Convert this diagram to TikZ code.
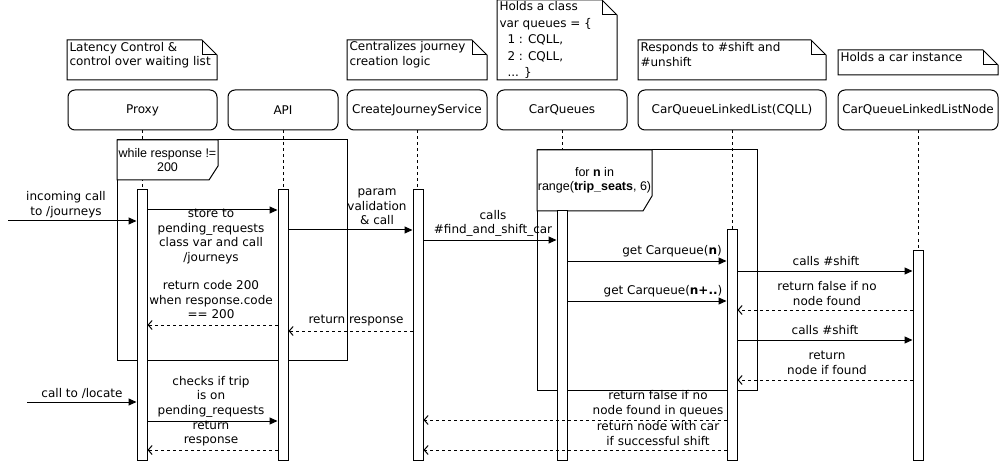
\documentclass[tikz,border=0pt]{standalone}
\usepackage{fontspec}
\setmainfont{DejaVu Sans}
\newfontfamily\framefont{Liberation Sans}
\usetikzlibrary{arrows.meta, calc}

\newcommand{\lbl}{\fontsize{12}{14.5}\selectfont}
\newcommand{\framelbl}{\framefont\fontsize{12.5}{14.5}\selectfont}

% note outline with folded corner: x1, y1, x2, y2
\newcommand{\notebox}[4]{%
  \draw[fill=white] (#1,#2) -- (#3-15,#2) -- (#3,#2+15) -- (#3,#4) -- (#1,#4) -- cycle;
  \draw (#3-15,#2) -- (#3-15,#2+15) -- (#3,#2+15);
}

\tikzset{
  participant/.style={draw, rounded corners=7pt, minimum height=40pt, inner sep=0pt, font=\lbl},
  actbar/.style={draw, fill=white, minimum width=10pt, inner sep=0pt},
  lifeline/.style={dash pattern=on 3pt off 3pt},
  call/.style={-{Triangle[length=8pt, width=7pt]}},
  reply/.style={-{Straight Barb[length=4pt, width=9pt]}, dash pattern=on 3pt off 3pt},
  msg/.style={font=\lbl, align=center, inner sep=0pt},
  notetext/.style={font=\lbl, align=left, inner sep=0pt, anchor=west},
  framelabel/.style={font=\framelbl, align=center, inner sep=0pt},
}

\begin{document}
\begin{tikzpicture}[x=1pt, y=-1pt, line width=1pt]

\useasboundingbox (0,0) rectangle (1000,462);

% Notes
\notebox{67}{40}{217}{80}
\node[notetext] (noteProxy) at (69,55) {Latency Control \&\\control over waiting list};
\notebox{347}{40}{487}{80}
\node[notetext] (noteCjs) at (349,54.5) {Centralizes journey\\creation logic};
\notebox{497}{0}{617}{80}
\node[notetext, font=\fontsize{12}{16.5}\selectfont] (noteCq) at (499,40)
  {Holds a class\\var queues = \{\\\hspace*{8pt}1 : CQLL,\\\hspace*{8pt}2 : CQLL,\\\hspace*{8pt}... \}};
\notebox{638}{40}{826}{80}
\node[notetext] (noteCqll) at (640,54.5) {Responds to \#shift and\\\#unshift};
\notebox{838}{50}{998}{75}
\node[notetext] (noteNode) at (840,57.5) {Holds a car instance};

% Participants
\node[participant, minimum width=149pt] (proxy) at (142.5,110) {Proxy};
\node[participant, minimum width=110pt] (api) at (283,110) {API};
\node[participant, minimum width=140pt] (cjs) at (417,110) {CreateJourneyService};
\node[participant, minimum width=130pt] (cq) at (562,110) {CarQueues};
\node[participant, minimum width=188pt] (cqll) at (732,110) {CarQueueLinkedList(CQLL)};
\node[participant, minimum width=160pt] (cqlln) at (918,110) {CarQueueLinkedListNode};

% Lifelines
\foreach \p in {proxy, api, cjs, cq, cqll, cqlln} {
  \draw[lifeline] (\p.south) -- (\p.south |- 0,460);
}

% --- Loop: while response != 200 ---
\draw (117,140) rectangle (347,360);
\draw[fill=white] (117,140) -- (218,140) -- (218,166) -- (209,180) -- (117,180) -- cycle;
\node[framelabel] (loopWhile) at (167.5,160) {while response !=\\200};

% --- Loop: for n in range ---
\draw (537,150) rectangle (757,390);
\draw[fill=white] (537,150) -- (652,150) -- (652,196) -- (643,211) -- (537,211) -- cycle;
\node[framelabel] (loopFor) at (594.5,180.5)
  {for \textbf{n} in\\range(\textbf{trip\_seats}, 6)};

% Activation bars
\foreach \n/\x/\top in {proxy/142/190, api/283/190, cjs/418/190,
                        cq/562/211, cqll/732/230, cqlln/918/250} {
  \node[actbar, minimum height={460-\top}] (\n-act) at (\x,{(460+\top)/2}) {};
}

% --- Create journey ---
\coordinate (inJourneys) at (8,221);
\draw[call] (inJourneys) -- (proxy-act.west |- inJourneys);
\node[msg] (lblIncoming) at (66,204.5) {incoming call\\to /journeys};

\draw[call] (proxy-act.east |- 0,210) -- (api-act.west |- 0,210);
\node[msg] (lblStore) at (211,236.5) {store to\\pending\_requests\\class var and call\\/journeys};

\draw[call] (api-act.east |- 0,230) -- (cjs-act.west |- 0,230);
\node[msg] (lblParam) at (377,207) {param\\validation\\\& call};

\draw[call] (cjs-act.east |- 0,240) -- (cq-act.west |- 0,240);
\node[msg] (lblFind) at (493,223.5) {calls\\\#find\_and\_shift\_car};

\draw[call] (cq-act.east |- 0,261) -- (cqll-act.west |- 0,261);
\node[msg] (lblGetN) at (672,251) {get Carqueue(\textbf{n})};

\draw[call] (cqll-act.east |- 0,271) -- (cqlln-act.west |- 0,271);
\node[msg] (lblShiftA) at (826,261) {calls \#shift};

\draw[call] (cq-act.east |- 0,301) -- (cqll-act.west |- 0,301);
\node[msg] (lblGetNext) at (663,291) {get Carqueue(\textbf{n+..})};

\draw[reply] (cqlln-act.west |- 0,310) -- (cqll-act.east |- 0,310);
\node[msg] (lblNoNode) at (827,293.5) {return false if no\\node found};

\draw[call] (cqll-act.east |- 0,340) -- (cqlln-act.west |- 0,340);
\node[msg] (lblShiftB) at (825,330) {calls \#shift};

\draw[reply] (cqlln-act.west |- 0,380) -- (cqll-act.east |- 0,380);
\node[msg] (lblFound) at (827,363) {return\\node if found};

% Responses back to the proxy
\draw[reply] (cjs-act.west |- 0,331) -- (api-act.east |- 0,331);
\node[msg] (lblRespCjs) at (356,321) {return response};

\draw[reply] (api-act.west |- 0,325) -- (proxy-act.east |- 0,325);
\node[msg] (lblCode) at (211,300) {return code 200\\when response.code\\== 200};

% --- Locate ---
\coordinate (inLocate) at (27,402);
\draw[call] (inLocate) -- (proxy-act.west |- inLocate);
\node[msg] (lblLocate) at (82,393) {call to /locate};

\draw[call] (proxy-act.east |- 0,421) -- (api-act.west |- 0,421);
\node[msg] (lblChecks) at (211,396.5) {checks if trip\\is on\\pending\_requests};

\draw[reply] (api-act.west |- 0,450) -- (proxy-act.east |- 0,450);
\node[msg] (lblResp) at (211,433.5) {return\\response};

% Results of the queue search
\draw[reply] (cqll-act.west |- 0,420) -- (cjs-act.east |- 0,420);
\node[msg] (lblNoQueue) at (658,403.5) {return false if no\\node found in queues};

\draw[reply] (cqll-act.west |- 0,450) -- (cjs-act.east |- 0,450);
\node[msg] (lblShifted) at (658,433.5) {return node with car\\if successful shift};

\end{tikzpicture}
\end{document}
